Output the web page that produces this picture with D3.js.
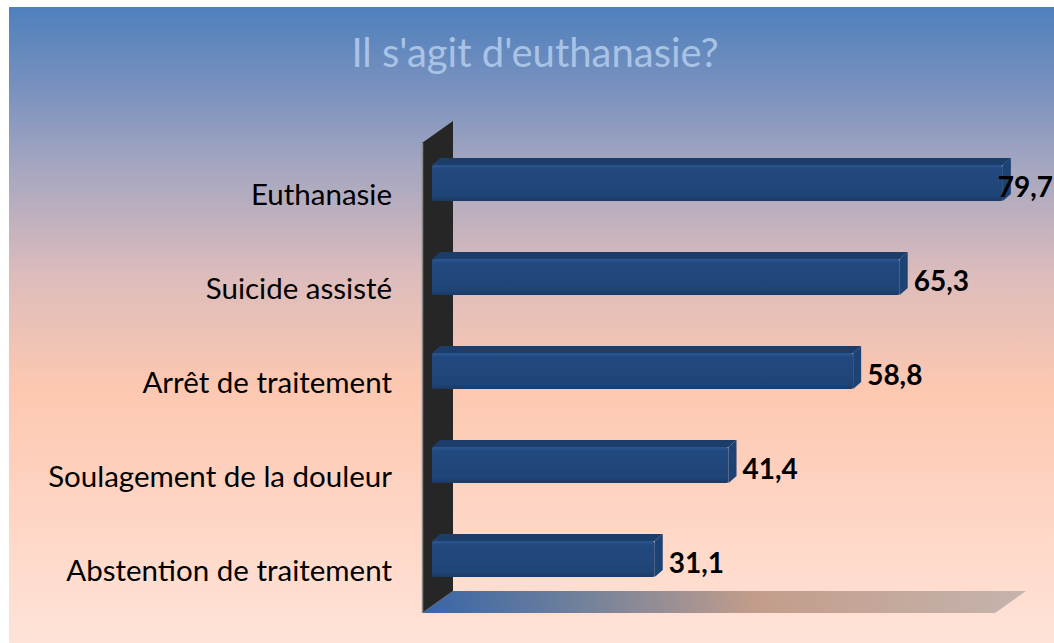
<!DOCTYPE html>
<html>
<head>
<meta charset="utf-8">
<script src="https://cdn.jsdelivr.net/npm/d3@7"></script>
<style>
  body { margin: 0; background: #fff; }
  svg { display: block; }
</style>
</head>
<body>
<div id="c1"></div>
<script>
// Data
var categories = ["Euthanasie", "Suicide assisté", "Arrêt de traitement", "Soulagement de la douleur", "Abstention de traitement"];
var values = [79.7, 65.3, 58.8, 41.4, 31.1];
var valueLabels = ["79,7", "65,3", "58,8", "41,4", "31,1"];
var title = "Il s'agit d'euthanasie?";

var w = 1054, h = 643;
var depth = {x: 31, y: -22};      // wall / floor depth
var barFront = {x: 10, y: -7};    // bar front plane offset
var barBack = {x: 18, y: -14};    // bar back plane offset
var font = "Lato, 'Open Sans', sans-serif";

var svg = d3.select("#c1").append("svg")
    .attr("width", w)
    .attr("height", h);

var defs = svg.append("defs");

// background gradient
var bg = defs.append("linearGradient").attr("id", "bg")
    .attr("x1", 0).attr("y1", 0).attr("x2", 0).attr("y2", 1);
[[0, "#4e80bd"], [0.12, "#7690be"], [0.25, "#a4a6c0"], [0.42, "#dcbcbc"], [0.6, "#fdc8b1"], [1, "#ffe3d8"]]
    .forEach(function (s) { bg.append("stop").attr("offset", s[0]).attr("stop-color", s[1]); });

var fl = defs.append("linearGradient").attr("id", "floor")
    .attr("gradientUnits", "userSpaceOnUse")
    .attr("x1", 430).attr("y1", 620).attr("x2", 1020).attr("y2", 560);
[[0, "#3a66a6"], [0.25, "#70809c"], [0.55, "#c39d8b"], [1, "#c5b3ad"]]
    .forEach(function (s) { fl.append("stop").attr("offset", s[0]).attr("stop-color", s[1]); });

var fr = defs.append("linearGradient").attr("id", "barFront")
    .attr("x1", 0).attr("y1", 0).attr("x2", 0).attr("y2", 1);
[[0, "#2b5892"], [0.12, "#22497f"], [0.85, "#1f4577"], [1, "#1a3a66"]]
    .forEach(function (s) { fr.append("stop").attr("offset", s[0]).attr("stop-color", s[1]); });

svg.append("rect")
    .attr("x", 9).attr("y", 7)
    .attr("width", w - 9).attr("height", h - 7)
    .attr("fill", "url(#bg)");

// Scales
var x = d3.scaleLinear().domain([0, 80]).range([422, 995]);
var y = d3.scaleBand().domain(categories).range([143, 613]).paddingInner(0.617).paddingOuter(0.3085);

// title
svg.append("text")
    .attr("x", 535).attr("y", 67)
    .attr("text-anchor", "middle")
    .style("font-family", font)
    .style("font-size", "40px")
    .attr("fill", "#a9c3e6")
    .text(title);

// floor
var fy = y.range()[1];
svg.append("polygon")
    .attr("points", [[x(0), fy], [x(0) + depth.x, fy + depth.y], [x(80) + depth.x, fy + depth.y], [x(80), fy]].join(" "))
    .attr("fill", "url(#floor)");

// wall
var wy = y.range()[0];
svg.append("polygon")
    .attr("points", [[x(0), wy], [x(0), fy], [x(0) + depth.x, fy + depth.y], [x(0) + depth.x, wy + depth.y]].join(" "))
    .attr("fill", "#262626");
svg.append("line")
    .attr("x1", x(0) + 0.5).attr("x2", x(0) + 0.5)
    .attr("y1", wy).attr("y2", fy)
    .attr("stroke", "#8a8a8a").attr("stroke-width", 1.5);

// bars
var bars = svg.selectAll("g.bar")
    .data(categories)
    .enter()
    .append("g")
    .attr("class", "bar");

bars.each(function (d, i) {
    var g = d3.select(this);
    var x0 = x(0), x1 = x(values[i]);
    var yt = y(d), yb = y(d) + y.bandwidth();

    // top face
    g.append("polygon")
        .attr("points", [[x0 + barFront.x, yt + barFront.y], [x1 + barFront.x, yt + barFront.y],
            [x1 + barBack.x, yt + barBack.y], [x0 + barBack.x, yt + barBack.y]].join(" "))
        .attr("fill", "#1c3c6a");

    // right side
    g.append("polygon")
        .attr("points", [[x1 + barFront.x, yt + barFront.y], [x1 + barBack.x, yt + barBack.y],
            [x1 + barBack.x, yb + barBack.y], [x1 + barFront.x, yb + barFront.y]].join(" "))
        .attr("fill", "#1d4274");

    // front face
    g.append("rect")
        .attr("x", x0 + barFront.x)
        .attr("y", yt + barFront.y)
        .attr("width", x1 - x0)
        .attr("height", yb - yt)
        .attr("rx", 2)
        .attr("fill", "url(#barFront)");

    // value label, kept inside the chart
    var t = g.append("text")
        .attr("y", (yt + yb) / 2 + barFront.y + 3)
        .attr("dominant-baseline", "central")
        .style("font-family", font)
        .style("font-weight", "bold")
        .style("font-size", "28px")
        .attr("fill", "#000")
        .text(valueLabels[i]);
    var tw = t.node().getComputedTextLength();
    t.attr("x", Math.min(x1 + barBack.x + 6, w - tw - 1));
});

// category labels
svg.selectAll("text.cat")
    .data(categories)
    .enter()
    .append("text")
    .attr("class", "cat")
    .attr("x", 392)
    .attr("y", function (d) { return y(d) + y.bandwidth() / 2 + 3; })
    .attr("text-anchor", "end")
    .attr("dominant-baseline", "central")
    .style("font-family", font)
    .style("font-size", "29.5px")
    .attr("fill", "#000")
    .text(function (d) { return d; });
</script>
</body>
</html>
